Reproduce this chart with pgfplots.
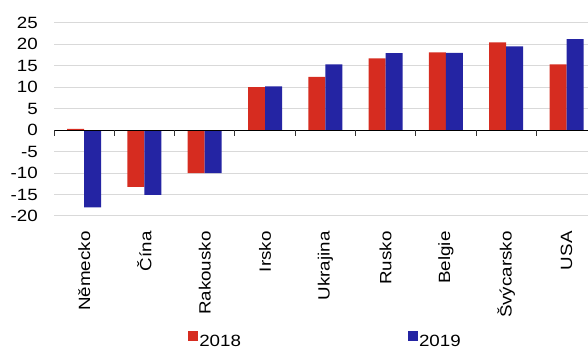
\documentclass[border=0pt]{standalone}
\usepackage{pgfplots}
\pgfplotsset{compat=1.18}
\usepackage{fontspec}
\setmainfont{Liberation Sans}[FakeStretch=1.15]
\definecolor{cred}{RGB}{214,44,32}
\definecolor{cblue}{RGB}{36,36,163}
\definecolor{cgrid}{RGB}{217,217,217}
\begin{document}
\begin{tikzpicture}
\begin{axis}[name=ax, scale only axis, width=534pt, height=193.3pt,
  ybar=0pt, bar width=17pt, clip=false,
  xmin=-0.5, xmax=8.356, ymin=-20, ymax=25,
  xtick={0,...,8},
  xticklabels={Německo,Čína,Rakousko,Irsko,Ukrajina,Rusko,Belgie,Švýcarsko,USA},
  xticklabel style={rotate=90, anchor=east, inner sep=0pt},
  xticklabel shift=11pt,
  ytick={-20,-15,...,25},
  yticklabel style={anchor=east, inner sep=0pt},
  yticklabel shift=16pt,
  /pgf/number format/assume math mode=true,
  tick label style={font=\fontsize{16.3}{19}\selectfont},
  ymajorgrids, grid style={cgrid, line width=1pt},
  axis line style={draw=none}, tick style={draw=none},
  legend style={at={(0.5075,-0.688)}, anchor=south, draw=none, fill=none,
    legend columns=2, inner sep=0pt,
    nodes={inner sep=1pt, font=\fontsize{16.3}{19}\selectfont},
    /tikz/every even column/.append style={column sep=166pt}},
  legend image code/.code={\fill[#1] (0pt,0.5pt) rectangle (10pt,10pt);},
]
\addplot[fill=cred, draw=none] coordinates {(0,0.3) (1,-13.2) (2,-10) (3,10) (4,12.4) (5,16.7) (6,18.1) (7,20.4) (8,15.3)};
\addplot[fill=cblue, draw=none] coordinates {(0,-18) (1,-15.1) (2,-10) (3,10.2) (4,15.3) (5,17.9) (6,18) (7,19.5) (8,21.2)};
\legend{2018,2019}
\draw[black, line width=1pt] (axis cs:-0.5,0) -- (axis cs:8.356,0);
\pgfplotsinvokeforeach{-0.5,0.5,1.5,2.5,3.5,4.5,5.5,6.5,7.5}{\draw[black!80, line width=1pt] (axis cs:#1,0) -- ([yshift=-6pt]axis cs:#1,0);}
\end{axis}
\pgfresetboundingbox
\path[use as bounding box] ([xshift=-54pt,yshift=22.7pt]ax.north west) rectangle ([yshift=-133pt]ax.south east);
\end{tikzpicture}
\end{document}
